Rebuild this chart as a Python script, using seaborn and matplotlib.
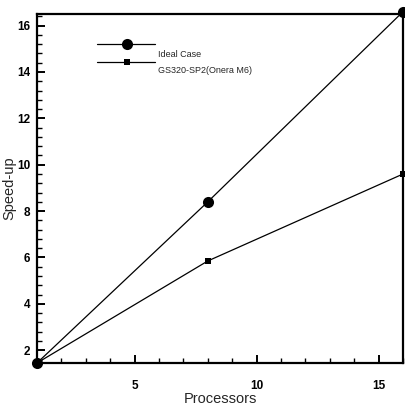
import matplotlib
matplotlib.use("Agg")
import matplotlib.pyplot as plt
import seaborn as sns
import pandas as pd
from matplotlib.lines import Line2D
from matplotlib.ticker import MultipleLocator

processors = [1, 8, 16]
ideal_case = [1.45, 8.4, 16.6]
gs320_sp2 = [1.45, 5.85, 9.6]
series_names = ["Ideal Case", "GS320-SP2(Onera M6)"]

df = pd.DataFrame({
    "Processors": processors * 2,
    "Speed-up": ideal_case + gs320_sp2,
    "series": [series_names[0]] * len(processors) + [series_names[1]] * len(processors),
})

sns.set_theme(style="white")
plt.rcParams["font.family"] = ["Liberation Sans", "DejaVu Sans"]

fig = plt.figure(figsize=(4.06, 4.12), dpi=100)
ax = fig.add_axes([37 / 406, 1 - 363 / 412, (403 - 37) / 406, (363 - 14) / 412])

sns.lineplot(data=df, x="Processors", y="Speed-up", hue="series", style="series",
             palette=["black", "black"], markers={series_names[0]: "o", series_names[1]: "s"},
             dashes=False, linewidth=0.9, ax=ax, legend=False)
for line, ms in zip(ax.lines, [8, 4.5]):
    line.set_markersize(ms)
    line.set_markeredgewidth(0)
    line.set_clip_on(False)

ax.set_xlim(1, 16)
ax.set_ylim(1.45, 16.5)
ax.xaxis.set_major_locator(MultipleLocator(5))
ax.xaxis.set_minor_locator(MultipleLocator(1))
ax.yaxis.set_major_locator(MultipleLocator(2))
ax.yaxis.set_minor_locator(MultipleLocator(0.4))
ax.tick_params(which="both", direction="in", colors="black", bottom=True, left=True,
               top=False, right=False)
ax.tick_params(which="major", length=6, width=1.4, labelsize=8.5, pad=5)
ax.tick_params(which="minor", length=3.5, width=1.0)
ax.tick_params(axis="x", which="major", pad=12)
for lab in ax.get_xticklabels() + ax.get_yticklabels():
    lab.set_fontweight("bold")
ax.set_xlabel("Processors", fontsize=10.5, labelpad=0)
ax.set_ylabel("Speed-up", fontsize=10.5, labelpad=0)

for side in ["left", "bottom", "top", "right"]:
    ax.spines[side].set_visible(True)
    ax.spines[side].set_color("black")
    ax.spines[side].set_linewidth(1.6)

# manual legend (handles above, text slightly below)
leg_y = [0.915, 0.862]
txt_y = [0.885, 0.837]
for name, mk, ms, ly, ty in zip(series_names, ["o", "s"], [8, 4.5], leg_y, txt_y):
    ax.add_line(Line2D([0.164, 0.323], [ly, ly], transform=ax.transAxes, color="black", lw=0.9))
    ax.add_line(Line2D([0.246], [ly], transform=ax.transAxes, color="black", marker=mk,
                       markersize=ms, markeredgewidth=0, linestyle="none"))
    ax.text(0.33, ty, name, transform=ax.transAxes, fontsize=6.5, va="center", ha="left")

fig.savefig("out.png", dpi=100)
